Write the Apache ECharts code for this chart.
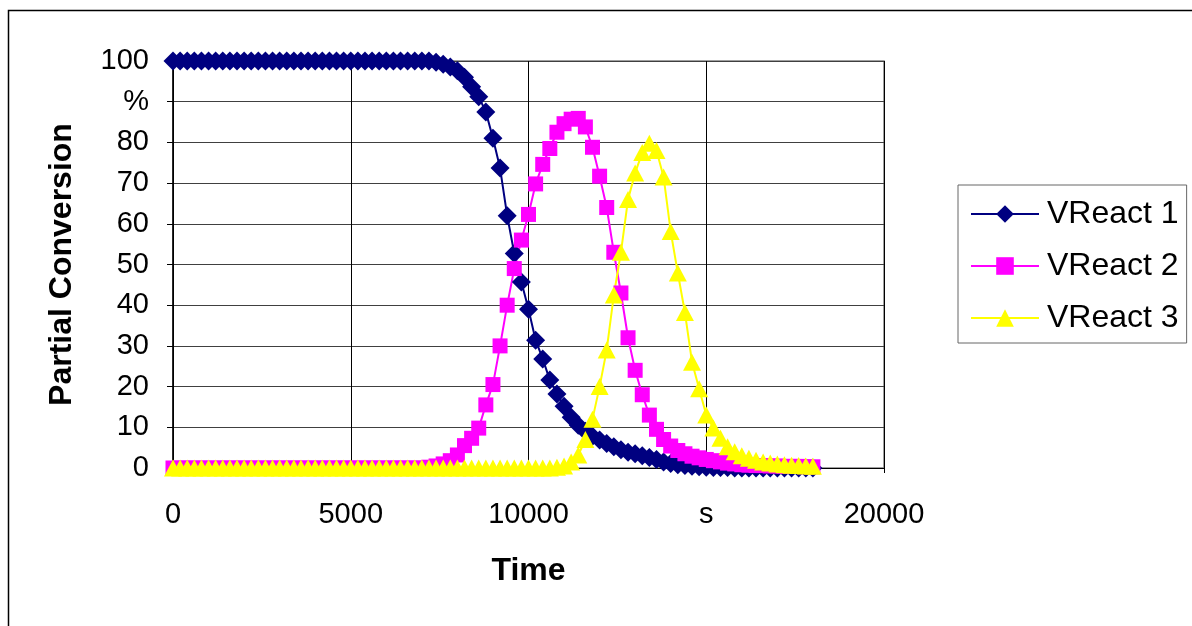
<!DOCTYPE html>
<html>
<head>
<meta charset="utf-8">
<script src="https://cdn.jsdelivr.net/npm/echarts@6/dist/echarts.min.js"></script>
<style>html,body{margin:0;padding:0;background:#fff;}#c{width:1192px;height:626px;}</style>
</head>
<body>
<div id="c"></div>
<script>
var times = [0,200,400,600,800,1000,1200,1400,1600,1800,2000,2200,2400,2600,2800,3000,3200,3400,3600,3800,
4000,4200,4400,4600,4800,5000,5200,5400,5600,5800,6000,6200,6400,6600,6800,7000,7200,7400,7600,7800,
8000,8200,8400,8600,8800,9000,9200,9400,9600,9800,10000,10200,10400,10600,10800,11000,11200,11400,11600,11800,
12000,12200,12400,12600,12800,13000,13200,13400,13600,13800,14000,14200,14400,14600,14800,15000,15200,15400,15600,15800,
16000,16200,16400,16600,16800,17000,17200,17400,17600,17800,18000];

var vreact1 = [100,100,100,100,100,100,100,100,100,100,100,100,100,100,100,100,100,100,100,100,
100,100,100,100,100,100,100,100,100,100,100,100,100,100,100,100,
100,99.7,99.2,98.5,97.6,96,93.7,91.2,87.5,81,73.7,62,52.7,45.7,39,31.4,26.8,21.6,18.2,15.2,
12.5,10.5,9,7.8,6.9,6,5.2,4.5,3.9,3.5,3,2.6,2.1,1.5,1.1,0.8,0.6,0.4,0.3,0.2,0.1,0.1,0.1,0,
0,0,0,0,0,0,0,0,0,0,0];

var vreact2 = [0,0,0,0,0,0,0,0,0,0,0,0,0,0,0,0,0,0,0,0,
0,0,0,0,0,0,0,0,0,0,0,0,0,0,0,0,
0.2,0.5,1,1.8,3.2,5.5,7.3,9.8,15.5,20.5,30,40,49,56,62.3,69.8,74.6,78.5,82.5,84.6,
85.7,85.9,83.8,78.8,71.7,64,53,43,32,24,18,13,9.5,7,5.4,4.3,3.5,2.9,2.5,2.1,
1.8,1.5,1.2,1.0,0.8,0.7,0.6,0.6,0.5,0.5,0.4,0.4,0.4,0.3,0.3];

var vreact3 = [0,0,0,0,0,0,0,0,0,0,0,0,0,0,0,0,0,0,0,0,
0,0,0,0,0,0,0,0,0,0,0,0,0,0,0,0,0,0,0,0,
0,0,0,0,0,0,0,0,0,0,0,0,0,0,
0.2,0.5,1.5,3.2,7,12,20,29,42.5,53,66,72.5,77.5,79.8,78,71.5,58.1,47.9,38.2,26,
19.5,13,9.8,7.3,5.2,4,3,2.4,1.9,1.5,1.2,1.0,0.8,0.7,0.6,0.5,0.4];

var seriesNames = ['VReact 1','VReact 2','VReact 3'];
var xTickLabels = {0:'0',5000:'5000',10000:'10000',15000:'s',20000:'20000'};
var yTickLabels = {0:'0',10:'10',20:'20',30:'30',40:'40',50:'50',60:'60',70:'70',80:'80',90:'%',100:'100'};

function pairs(vals){ return times.map(function(t,i){ return [t, vals[i]]; }); }

var FONT = "'Liberation Sans', Arial, sans-serif";
var chart = echarts.init(document.getElementById('c'), null, {renderer:'canvas'});
chart.setOption({
  animation: false,
  backgroundColor: '#ffffff',
  graphic: [{
    type: 'rect', left: 6, top: 8, shape: {width: 1200, height: 700},
    style: {fill: 'none', stroke: '#000', lineWidth: 1.5}, z: -10
  }],
  grid: {left: 173, right: 308, top: 61, bottom: 158, show: true, borderColor: '#808080', borderWidth: 1.5, backgroundColor: '#fff'},
  xAxis: {
    type: 'value', min: 0, max: 20000, interval: 5000,
    name: 'Time', nameLocation: 'middle', nameGap: 87,
    nameTextStyle: {fontFamily: FONT, fontSize: 32, fontWeight: 'bold', color: '#000'},
    axisLine: {show: true, onZero: false, lineStyle: {color: '#000', width: 1}},
    axisTick: {show: true, inside: false, length: 5, lineStyle: {color: '#000'}},
    axisLabel: {margin: 32, fontFamily: FONT, fontSize: 29, color: '#000',
      formatter: function(v){ return xTickLabels[v] !== undefined ? xTickLabels[v] : ''; }},
    splitLine: {show: true, lineStyle: {color: '#000', width: 1}}
  },
  yAxis: {
    type: 'value', min: 0, max: 100, interval: 10,
    name: 'Partial Conversion', nameLocation: 'middle', nameGap: 95, nameRotate: 90,
    nameTextStyle: {fontFamily: FONT, fontSize: 32, fontWeight: 'bold', color: '#000'},
    axisLine: {show: true, lineStyle: {color: '#000', width: 1.5}},
    axisTick: {show: true, inside: false, length: 6, lineStyle: {color: '#000'}},
    axisLabel: {margin: 24, fontFamily: FONT, fontSize: 29, color: '#000',
      formatter: function(v){ return yTickLabels[v] !== undefined ? yTickLabels[v] : ''; }},
    splitLine: {show: true, lineStyle: {color: '#404040', width: 1}}
  },
  legend: {
    orient: 'vertical', left: 958, top: 185,
    padding: [13, 8, 9, 12], itemGap: 20, itemWidth: 68, itemHeight: 22,
    backgroundColor: '#fff', borderColor: '#666', borderWidth: 1,
    textStyle: {fontFamily: FONT, fontSize: 32, color: '#000', lineHeight: 32, padding: [0,0,0,3]},
    data: seriesNames
  },
  series: [
    {name: seriesNames[0], type: 'line', data: pairs(vreact1), symbol: 'diamond', symbolSize: 19,
     itemStyle: {color: '#000080'}, lineStyle: {color: '#000080', width: 2}},
    {name: seriesNames[1], type: 'line', data: pairs(vreact2), symbol: 'rect', symbolSize: 15,
     itemStyle: {color: '#FF00FF'}, lineStyle: {color: '#FF00FF', width: 2}},
    {name: seriesNames[2], type: 'line', data: pairs(vreact3), symbol: 'triangle', symbolSize: [18, 17],
     itemStyle: {color: '#FFFF00'}, lineStyle: {color: '#FFFF00', width: 2}}
  ]
});
</script>
</body>
</html>
